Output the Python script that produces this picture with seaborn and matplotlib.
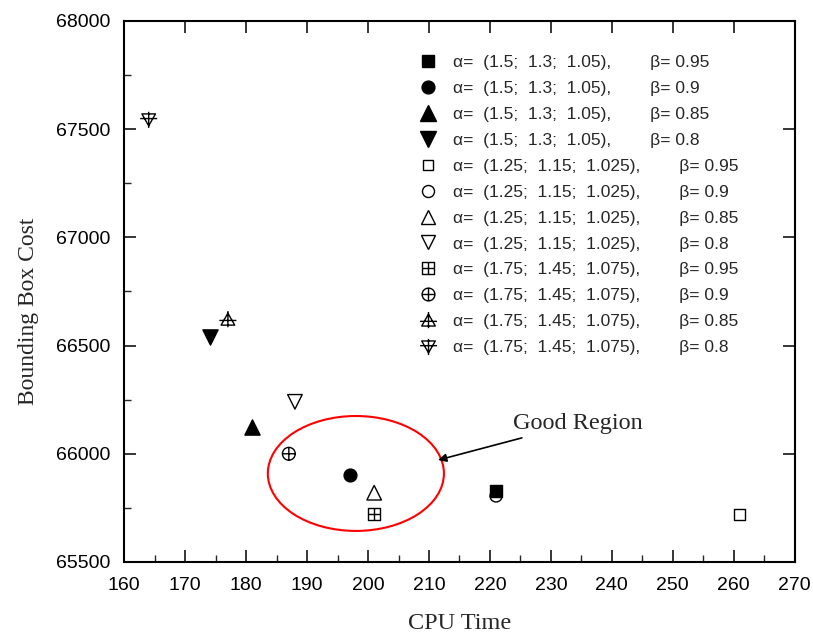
import numpy as np
import pandas as pd
import matplotlib
matplotlib.use("Agg")
import matplotlib.pyplot as plt
import seaborn as sns
from matplotlib.path import Path
from matplotlib.patches import Ellipse
from matplotlib.lines import Line2D
from matplotlib.ticker import MultipleLocator

sns.set_theme(style="ticks")
plt.rcParams['font.family'] = ['Liberation Sans', 'DejaVu Sans']

labels = [
    "α=  (1.5;  1.3;  1.05),        β= 0.95",
    "α=  (1.5;  1.3;  1.05),        β= 0.9",
    "α=  (1.5;  1.3;  1.05),        β= 0.85",
    "α=  (1.5;  1.3;  1.05),        β= 0.8",
    "α=  (1.25;  1.15;  1.025),        β= 0.95",
    "α=  (1.25;  1.15;  1.025),        β= 0.9",
    "α=  (1.25;  1.15;  1.025),        β= 0.85",
    "α=  (1.25;  1.15;  1.025),        β= 0.8",
    "α=  (1.75;  1.45;  1.075),        β= 0.95",
    "α=  (1.75;  1.45;  1.075),        β= 0.9",
    "α=  (1.75;  1.45;  1.075),        β= 0.85",
    "α=  (1.75;  1.45;  1.075),        β= 0.8",
]
cpu_time = [221, 197, 181, 174, 261, 221, 201, 188, 201, 187, 177, 164]
bbox_cost = [65828, 65900, 66125, 66540, 65720, 65805, 65820, 66240, 65720, 66000, 66620, 67545]

def compound(*paths):
    return Path.make_compound_path(*paths)

M, L, C = Path.MOVETO, Path.LINETO, Path.CLOSEPOLY
sq = Path([(-1, -1), (1, -1), (1, 1), (-1, 1), (-1, -1)], [M, L, L, L, C])
cross = Path([(0, -1), (0, 1), (-1, 0), (1, 0)], [M, L, M, L])
boxplus = compound(sq, cross)
circ = Path.unit_circle()
circplus = compound(circ, cross)
tri_up = Path([(-0.8, -0.65), (0.8, -0.65), (0, 0.75), (-0.8, -0.65)], [M, L, L, C])
tri_up_x = compound(tri_up, Path([(0, -0.9), (0, 1.0), (-1, -0.1), (1, -0.1)], [M, L, M, L]))
tri_dn = Path([(-0.8, 0.65), (0.8, 0.65), (0, -0.75), (-0.8, 0.65)], [M, L, L, C])
tri_dn_x = compound(tri_dn, Path([(0, 0.9), (0, -1.0), (-1, 0.1), (1, 0.1)], [M, L, M, L]))

markers = ['s', 'o', '^', 'v', 's', 'o', '^', 'v', boxplus, circplus, tri_up_x, tri_dn_x]
filled = [True] * 4 + [False] * 8
sizes = [64, 85, 120, 120, 60, 75, 110, 110, 75, 85, 150, 150]

df = pd.DataFrame({"cpu": cpu_time, "cost": bbox_cost, "label": labels})

fig = plt.figure(figsize=(8.13, 6.35), dpi=100)
ax = fig.add_axes([0.1529, 0.115, 0.8245, 0.852])

handles = []
for i, row in df.iterrows():
    fc = 'black' if filled[i] else 'none'
    sns.scatterplot(x=[row.cpu], y=[row.cost], marker=markers[i], s=sizes[i],
                    facecolor=fc, edgecolor='black', linewidth=1.0, ax=ax, legend=False)
    handles.append(Line2D([], [], linestyle='none', marker=markers[i],
                          markersize=np.sqrt(sizes[i]),
                          markerfacecolor=fc, markeredgecolor='black', markeredgewidth=1.0))

ell = Ellipse((198.0, 65909), width=28.9, height=531, fill=False, edgecolor='red', linewidth=1.5)
ax.add_patch(ell)

ax.annotate("Good Region", xy=(211.5, 65971), xytext=(223.8, 66142),
            fontsize=17.5, family=['Liberation Serif'], va='center', ha='left',
            arrowprops=dict(arrowstyle='-|>', color='black', lw=1.2,
                            shrinkA=3, shrinkB=0, mutation_scale=12))

ax.set_xlim(160, 270)
ax.set_ylim(65500, 68000)
ax.xaxis.set_major_locator(MultipleLocator(10))
ax.xaxis.set_minor_locator(MultipleLocator(5))
ax.yaxis.set_major_locator(MultipleLocator(500))
ax.yaxis.set_minor_locator(MultipleLocator(250))
ax.tick_params(which='major', direction='in', length=8.8, width=1.1, labelsize=14, colors='black',
               top=True, right=True)
ax.tick_params(which='minor', direction='in', length=4.8, width=1.0, top=False, right=False)
ax.tick_params(axis='x', pad=10.5)
ax.tick_params(axis='y', pad=10)
for sp in ax.spines.values():
    sp.set_linewidth(1.5)
    sp.set_color('black')
    sp.set_visible(True)

ax.set_xlabel("CPU Time", fontsize=17.5, family=['Liberation Serif'])
ax.set_ylabel("Bounding Box Cost", fontsize=17, family=['Liberation Serif'])
ax.xaxis.set_label_coords(0.5, -0.095)
ax.yaxis.set_label_coords(-0.127, 0.463)

fs = 12.5
leg = ax.legend(handles, labels, loc='upper left',
                bbox_to_anchor=(419.3 / 813, 1 - 55 / 635), bbox_transform=fig.transFigure,
                frameon=False, fontsize=fs, handletextpad=0.94, labelspacing=0.62,
                handlelength=1.0, borderaxespad=0, borderpad=0)

fig.savefig("out.png", dpi=100)
